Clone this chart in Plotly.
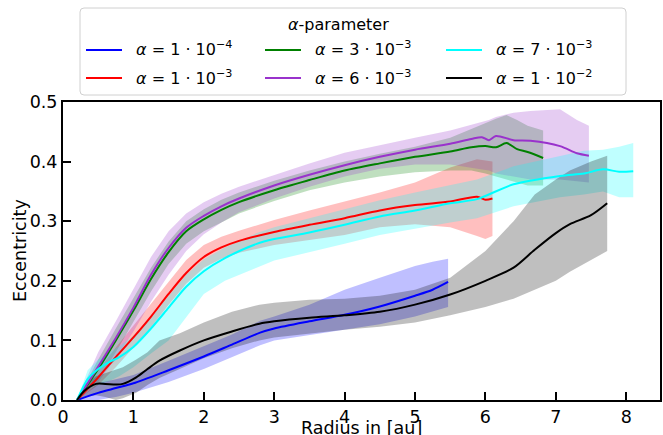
import plotly.graph_objects as go

# ---------------- data ----------------
labels = ["<i>α</i> = 1 · 10<sup>−4</sup>", "<i>α</i> = 1 · 10<sup>−3</sup>",
          "<i>α</i> = 3 · 10<sup>−3</sup>", "<i>α</i> = 6 · 10<sup>−3</sup>",
          "<i>α</i> = 7 · 10<sup>−3</sup>", "<i>α</i> = 1 · 10<sup>−2</sup>"]
legend_title = "<i>α</i>-parameter"
x_title = "Radius in [au]"
y_title = "Eccentricity"

x_a1e4 = [0.2, 0.5, 0.75, 1.0, 1.5, 2.0, 2.4, 2.8, 3.0, 3.5, 4.0, 4.5, 5.0, 5.25, 5.47]
m_a1e4 = [0.0, 0.012, 0.02, 0.028, 0.05, 0.073, 0.093, 0.113, 0.12, 0.132, 0.143, 0.157, 0.175, 0.185, 0.198]
lo_a1e4 = [0.0, 0.0, 0.005, 0.012, 0.03, 0.052, 0.072, 0.092, 0.1, 0.11, 0.118, 0.127, 0.14, 0.148, 0.156]
hi_a1e4 = [0.0, 0.028, 0.035, 0.042, 0.066, 0.09, 0.11, 0.133, 0.14, 0.16, 0.185, 0.205, 0.225, 0.232, 0.237]

x_a1e3 = [0.2, 0.5, 0.75, 1.0, 1.25, 1.5, 1.75, 2.0, 2.25, 2.5, 3.0, 3.5, 4.0, 4.5, 5.0, 5.5, 5.88, 6.0, 6.1]
m_a1e3 = [0.0, 0.038, 0.072, 0.105, 0.14, 0.178, 0.213, 0.24, 0.256, 0.267, 0.282, 0.294, 0.305, 0.318, 0.327, 0.333, 0.341, 0.336, 0.338]
lo_a1e3 = [0.0, 0.025, 0.055, 0.088, 0.122, 0.16, 0.195, 0.222, 0.237, 0.247, 0.26, 0.268, 0.277, 0.29, 0.295, 0.29, 0.275, 0.27, 0.275]
hi_a1e3 = [0.0, 0.05, 0.088, 0.125, 0.162, 0.2, 0.235, 0.26, 0.274, 0.284, 0.302, 0.318, 0.333, 0.348, 0.365, 0.39, 0.404, 0.402, 0.4]

x_a3e3 = [0.2, 0.5, 0.75, 1.0, 1.25, 1.5, 1.75, 2.0, 2.25, 2.5, 3.0, 3.5, 4.0, 4.5, 5.0, 5.5, 5.8, 6.0, 6.15, 6.3, 6.45, 6.6, 6.82]
m_a3e3 = [0.0, 0.052, 0.1, 0.15, 0.203, 0.248, 0.283, 0.303, 0.319, 0.332, 0.352, 0.369, 0.385, 0.397, 0.408, 0.417, 0.424, 0.426, 0.424, 0.431, 0.421, 0.416, 0.406]
lo_a3e3 = [0.0, 0.035, 0.08, 0.13, 0.182, 0.228, 0.262, 0.283, 0.298, 0.313, 0.334, 0.352, 0.365, 0.375, 0.382, 0.385, 0.385, 0.38, 0.375, 0.37, 0.365, 0.36, 0.36]
hi_a3e3 = [0.0, 0.068, 0.12, 0.17, 0.222, 0.266, 0.3, 0.32, 0.336, 0.348, 0.368, 0.385, 0.4, 0.413, 0.425, 0.44, 0.455, 0.465, 0.472, 0.478, 0.47, 0.46, 0.452]

x_a6e3 = [0.2, 0.5, 0.75, 1.0, 1.25, 1.5, 1.75, 2.0, 2.25, 2.5, 3.0, 3.5, 4.0, 4.5, 5.0, 5.5, 5.8, 5.95, 6.05, 6.15, 6.4, 6.64, 7.06, 7.3, 7.47]
m_a6e3 = [0.0, 0.056, 0.104, 0.155, 0.21, 0.255, 0.289, 0.309, 0.325, 0.338, 0.36, 0.378, 0.394, 0.408, 0.42, 0.43, 0.438, 0.441, 0.436, 0.443, 0.436, 0.435, 0.426, 0.414, 0.41]
lo_a6e3 = [0.0, 0.03, 0.07, 0.115, 0.165, 0.21, 0.25, 0.278, 0.298, 0.315, 0.338, 0.358, 0.375, 0.388, 0.395, 0.395, 0.39, 0.387, 0.385, 0.38, 0.375, 0.37, 0.37, 0.367, 0.365]
hi_a6e3 = [0.0, 0.08, 0.132, 0.185, 0.24, 0.283, 0.313, 0.332, 0.346, 0.358, 0.378, 0.397, 0.415, 0.428, 0.44, 0.452, 0.462, 0.466, 0.47, 0.475, 0.482, 0.485, 0.488, 0.47, 0.46]

x_a7e3 = [0.2, 0.35, 0.5, 0.66, 0.8, 1.0, 1.25, 1.5, 1.75, 2.0, 2.3, 2.75, 3.0, 3.5, 4.0, 4.5, 5.0, 5.5, 5.88, 6.4, 7.06, 7.4, 7.67, 7.9, 8.1]
m_a7e3 = [0.0, 0.035, 0.052, 0.064, 0.072, 0.089, 0.12, 0.155, 0.19, 0.216, 0.238, 0.262, 0.27, 0.281, 0.294, 0.308, 0.318, 0.33, 0.337, 0.362, 0.376, 0.38, 0.387, 0.383, 0.384]
lo_a7e3 = [0.0, 0.015, 0.025, 0.032, 0.04, 0.055, 0.078, 0.1, 0.14, 0.178, 0.2, 0.222, 0.234, 0.248, 0.262, 0.277, 0.287, 0.298, 0.305, 0.325, 0.34, 0.345, 0.35, 0.34, 0.34]
hi_a7e3 = [0.0, 0.05, 0.068, 0.08, 0.09, 0.108, 0.14, 0.175, 0.21, 0.236, 0.256, 0.28, 0.29, 0.305, 0.32, 0.335, 0.348, 0.36, 0.37, 0.392, 0.41, 0.418, 0.42, 0.425, 0.431]

x_a1e2 = [0.2, 0.3, 0.47, 0.6, 0.75, 0.85, 1.04, 1.2, 1.37, 1.66, 2.0, 2.4, 2.79, 3.0, 3.5, 4.0, 4.5, 5.0, 5.5, 6.0, 6.4, 6.7, 7.0, 7.2, 7.5, 7.73]
m_a1e2 = [0.0, 0.015, 0.027, 0.027, 0.026, 0.027, 0.038, 0.052, 0.066, 0.083, 0.1, 0.115, 0.128, 0.132, 0.138, 0.142, 0.148, 0.16, 0.177, 0.2, 0.222, 0.252, 0.28, 0.295, 0.31, 0.33]
lo_a1e2 = [0.0, 0.005, 0.008, 0.005, 0.0, 0.003, 0.012, 0.025, 0.037, 0.052, 0.07, 0.087, 0.1, 0.105, 0.112, 0.118, 0.123, 0.13, 0.142, 0.156, 0.17, 0.185, 0.2, 0.215, 0.235, 0.25]
hi_a1e2 = [0.0, 0.025, 0.04, 0.045, 0.05, 0.055, 0.068, 0.08, 0.1, 0.112, 0.13, 0.148, 0.16, 0.163, 0.168, 0.17, 0.175, 0.185, 0.205, 0.25, 0.3, 0.345, 0.37, 0.385, 0.4, 0.41]

series = [
    (labels[0], x_a1e4, m_a1e4, lo_a1e4, hi_a1e4, (0, 0, 255)),
    (labels[1], x_a1e3, m_a1e3, lo_a1e3, hi_a1e3, (255, 0, 0)),
    (labels[2], x_a3e3, m_a3e3, lo_a3e3, hi_a3e3, (0, 128, 0)),
    (labels[3], x_a6e3, m_a6e3, lo_a6e3, hi_a6e3, (153, 50, 204)),
    (labels[4], x_a7e3, m_a7e3, lo_a7e3, hi_a7e3, (0, 255, 255)),
    (labels[5], x_a1e2, m_a1e2, lo_a1e2, hi_a1e2, (0, 0, 0)),
]

W, H = 663, 435
ML, MR, MT, MB = 63, 3, 102, 35
PW, PH = W - ML - MR, H - MT - MB


def px(xp):
    return (xp - ML) / PW


def py(yp):
    return (H - MB - yp) / PH


fig = go.Figure()
for name, xs, m, lo, hi, c in series:
    fig.add_trace(go.Scatter(
        x=list(xs) + list(xs)[::-1], y=list(hi) + list(lo)[::-1],
        fill="toself", fillcolor=f"rgba({c[0]},{c[1]},{c[2]},0.25)",
        line=dict(width=0), mode="lines", showlegend=False, hoverinfo="skip"))
for name, xs, m, lo, hi, c in series:
    fig.add_trace(go.Scatter(
        x=xs, y=m, mode="lines", name=name, showlegend=False,
        line=dict(color=f"rgb({c[0]},{c[1]},{c[2]})", width=2, shape="spline", smoothing=0.8)))

# ---- legend box drawn manually (3 columns x 2 rows, column-major) ----
shapes = []
annotations = []
x0, x1, y0, y1, r = 80, 626, 8, 95, 4
path = (f"M {px(x0 + r)} {py(y0)} L {px(x1 - r)} {py(y0)} Q {px(x1)} {py(y0)} {px(x1)} {py(y0 + r)} "
        f"L {px(x1)} {py(y1 - r)} Q {px(x1)} {py(y1)} {px(x1 - r)} {py(y1)} "
        f"L {px(x0 + r)} {py(y1)} Q {px(x0)} {py(y1)} {px(x0)} {py(y1 - r)} "
        f"L {px(x0)} {py(y0 + r)} Q {px(x0)} {py(y0)} {px(x0 + r)} {py(y0)} Z")
shapes.append(dict(type="path", xref="paper", yref="paper", path=path,
                   line=dict(color="#d0d0d0", width=1), fillcolor="rgba(255,255,255,0.85)",
                   layer="above"))
annotations.append(dict(text=legend_title, xref="paper", yref="paper", x=px(338), y=py(24),
                        xanchor="center", yanchor="middle", showarrow=False,
                        font=dict(size=16, color="black")))
col_x = [86, 265, 446]
row_y = [50, 78]
for i, (name, xs, m, lo, hi, c) in enumerate(series):
    col, row = i // 2, i % 2
    lx, ly = col_x[col], row_y[row]
    shapes.append(dict(type="line", xref="paper", yref="paper", x0=px(lx), x1=px(lx + 36),
                       y0=py(ly), y1=py(ly), line=dict(color=f"rgb({c[0]},{c[1]},{c[2]})", width=2),
                       layer="above"))
    annotations.append(dict(text=name, xref="paper", yref="paper", x=px(lx + 48), y=py(ly - 1),
                            xanchor="left", yanchor="middle", showarrow=False,
                            font=dict(size=16, color="black")))

# axis titles as annotations (placed like the reference)
annotations.append(dict(text=x_title, xref="paper", yref="paper", x=0.5, y=py(428),
                        xanchor="center", yanchor="middle", showarrow=False,
                        font=dict(size=17.5, color="black")))
annotations.append(dict(text=y_title, xref="paper", yref="paper", x=px(20), y=0.5,
                        xanchor="center", yanchor="middle", showarrow=False, textangle=-90,
                        font=dict(size=17.5, color="black")))

axis_common = dict(showgrid=False, zeroline=False, showline=True, linecolor="black",
                   linewidth=2, mirror=True, ticks="inside", ticklen=8, tickwidth=2,
                   tickcolor="black", tickfont=dict(size=17.5, color="black"), automargin=False)
fig.update_layout(
    width=W, height=H, margin=dict(l=ML, r=MR, t=MT, b=MB, autoexpand=False),
    plot_bgcolor="white", paper_bgcolor="white", showlegend=False,
    font=dict(family="DejaVu Sans", size=17, color="black"),
    xaxis=dict(range=[0, 8.48], dtick=1, tick0=0, **axis_common),
    yaxis=dict(range=[0, 0.5], dtick=0.1, tick0=0, tickformat=".1f", **axis_common),
    shapes=shapes, annotations=annotations,
)
fig.write_html("out.html")
